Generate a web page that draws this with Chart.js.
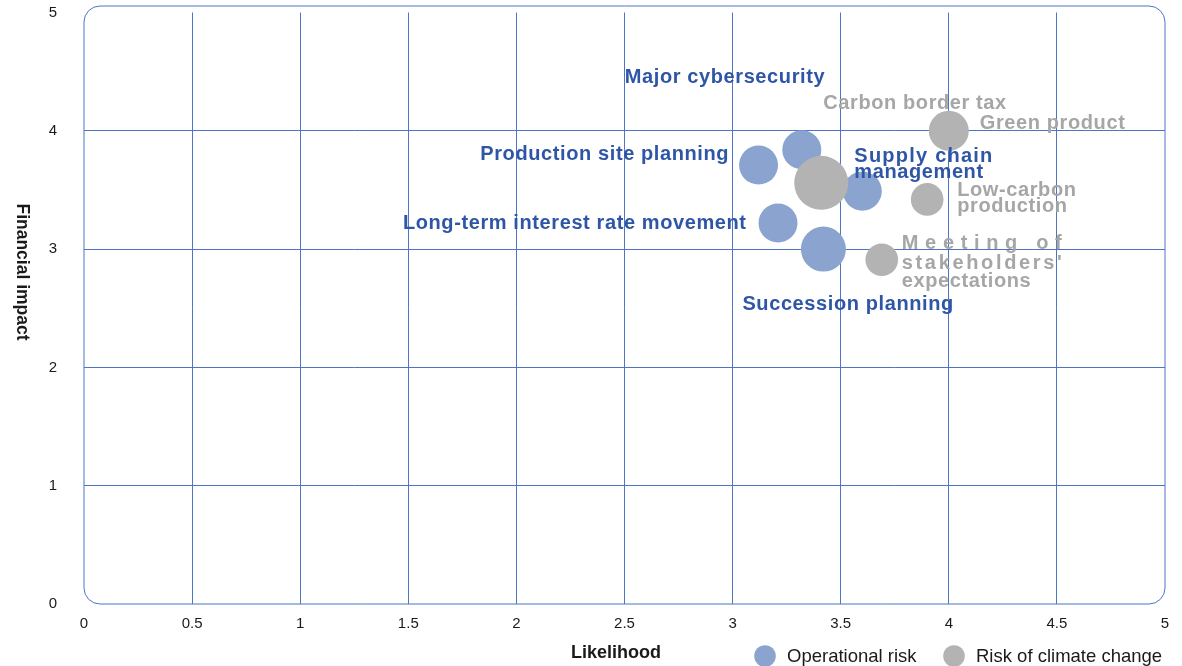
<!DOCTYPE html>
<html>
<head>
<meta charset="utf-8">
<script src="https://cdn.jsdelivr.net/npm/chart.js@4/dist/chart.umd.min.js"></script>
<style>
  html, body { margin: 0; padding: 0; background: #ffffff; }
  #wrap { width: 1182px; height: 666px; position: relative; }
</style>
</head>
<body>
<div id="wrap"><canvas id="c" width="1182" height="666"></canvas></div>
<script>
// ---------- DATA ----------
const seriesNames = ["Operational risk", "Risk of climate change"];

const opNames = ["Major cybersecurity", "Production site planning", "Supply chain management",
                 "Long-term interest rate movement", "Succession planning"];
const opLikelihood = [3.32, 3.12, 3.60, 3.21, 3.42];
const opImpact     = [3.84, 3.71, 3.49, 3.22, 3.00];
const opWeight     = [19.5, 19.5, 19.5, 19.5, 22.5];

const ccNames = ["Carbon border tax", "Green product", "Low-carbon production",
                 "Meeting of stakeholders' expectations"];
const ccLikelihood = [3.41, 4.00, 3.90, 3.69];
const ccImpact     = [3.56, 4.00, 3.42, 2.91];
const ccWeight     = [27, 20, 16.3, 16.3];

const xTickValues = [0, 0.5, 1, 1.5, 2, 2.5, 3, 3.5, 4, 4.5, 5];
const yTickValues = [0, 1, 2, 3, 4, 5];

const xTitle = "Likelihood";
const yTitle = "Financial impact";

// ---------- STYLE / LAYOUT (not data) ----------
const BLUE_FILL = "#8ba3cf";
const GREY_FILL = "#b3b3b3";
const BLUE_TEXT = "#2f56a6";
const GREY_TEXT = "#a6a6a6";
const GRID = "#4f74c4";
const FONT = "'Liberation Sans', Arial, sans-serif";
const LABEL_SHIFT = 2;

// label placement relative to the bubble centre (pixels)
const labelLayout = {
  "Major cybersecurity": { lines: ["Major cybersecurity"], dx: -177, dy: [-74], align: "left" },
  "Production site planning": { lines: ["Production site planning"], dx: -30, dy: [-13], align: "right" },
  "Supply chain management": { lines: ["Supply chain", "management"], dx: -8, dy: [-37, -21], align: "left", justify: [138, 0] },
  "Long-term interest rate movement": { lines: ["Long-term interest rate movement"], dx: -32, dy: [-2], align: "right" },
  "Succession planning": { lines: ["Succession planning"], dx: -81, dy: [53], align: "left" },
  "Carbon border tax": { lines: ["Carbon border tax"], dx: 2, dy: [-81], align: "left" },
  "Green product": { lines: ["Green product"], dx: 31, dy: [-9], align: "left" },
  "Low-carbon production": { lines: ["Low-carbon", "production"], dx: 30, dy: [-11, 5], align: "left" },
  "Meeting of stakeholders' expectations": { lines: ["Meeting of", "stakeholders'", "expectations"], dx: 20, dy: [-18, 2, 20], align: "left", justify: [160, 160, 0] }
};

function drawSpaced(ctx, text, x, y, spacing, align, targetWidth) {
  const chars = Array.from(text);
  const widths = chars.map(ch => ctx.measureText(ch).width);
  const raw = widths.reduce((a, b) => a + b, 0);
  let sp = spacing;
  if (targetWidth && chars.length > 1) sp = (targetWidth - raw) / (chars.length - 1);
  const total = raw + sp * (chars.length - 1);
  let cx = align === "right" ? x - total : (align === "center" ? x - total / 2 : x);
  ctx.textAlign = "left";
  chars.forEach((ch, i) => { ctx.fillText(ch, cx, y); cx += widths[i] + sp; });
}

const decorPlugin = {
  id: "decor",
  beforeDatasetsDraw(chart) {
    const ctx = chart.ctx, a = chart.chartArea;
    const top = a.top - 6.5, left = a.left, right = a.right, bottom = a.bottom, r = 16;
    ctx.save();
    ctx.strokeStyle = GRID;
    ctx.lineWidth = 1;
    ctx.beginPath();
    ctx.moveTo(left + r, top);
    ctx.lineTo(right - r, top);
    ctx.arcTo(right, top, right, top + r, r);
    ctx.lineTo(right, bottom - r);
    ctx.arcTo(right, bottom, right - r, bottom, r);
    ctx.lineTo(left + r, bottom);
    ctx.arcTo(left, bottom, left, bottom - r, r);
    ctx.lineTo(left, top + r);
    ctx.arcTo(left, top, left + r, top, r);
    ctx.closePath();
    ctx.stroke();
    ctx.restore();
  },
  afterDatasetsDraw(chart) {
    const ctx = chart.ctx;
    ctx.save();
    ctx.textBaseline = "middle";
    ctx.font = "bold 20px " + FONT;
    chart.data.datasets.forEach((ds, di) => {
      const meta = chart.getDatasetMeta(di);
      ctx.fillStyle = di === 0 ? BLUE_TEXT : GREY_TEXT;
      ds.names.forEach((name, i) => {
        const el = meta.data[i];
        const L = labelLayout[name];
        if (!L || !el) return;
        L.lines.forEach((line, li) => {
          const tw = L.justify ? L.justify[li] : 0;
          drawSpaced(ctx, line, el.x + L.dx, el.y + L.dy[li] + LABEL_SHIFT, 0.6, L.align, tw);
        });
      });
    });
    ctx.restore();
  },
  afterDraw(chart) {
    const ctx = chart.ctx;
    ctx.save();
    ctx.fillStyle = "#1a1a1a";
    ctx.textBaseline = "middle";
    ctx.font = "bold 18px " + FONT;
    ctx.textAlign = "center";
    ctx.fillText(xTitle, 616, 653);
    ctx.save();
    ctx.translate(22, 272);
    ctx.rotate(Math.PI / 2);
    ctx.font = "bold 17.5px " + FONT;
    ctx.fillText(yTitle, 0, 0);
    ctx.restore();
    const items = [
      { label: seriesNames[0], color: BLUE_FILL, cx: 765 },
      { label: seriesNames[1], color: GREY_FILL, cx: 954 }
    ];
    ctx.font = "18.5px " + FONT;
    ctx.textAlign = "left";
    items.forEach(it => {
      ctx.beginPath();
      ctx.fillStyle = it.color;
      ctx.arc(it.cx, 656, 10.8, 0, Math.PI * 2);
      ctx.fill();
      ctx.fillStyle = "#1a1a1a";
      ctx.fillText(it.label, it.cx + 22, 657);
    });
    ctx.restore();
  }
};

function toPoints(xs, ys, rs) {
  return xs.map((x, i) => ({ x: x, y: ys[i], r: rs[i] }));
}

const gridColor = (ctx) => {
  const v = ctx.tick ? ctx.tick.value : null;
  const s = ctx.scale;
  if (v === s.min || v === s.max) return "rgba(0,0,0,0)";
  return GRID;
};

new Chart(document.getElementById("c"), {
  type: "bubble",
  data: {
    datasets: [
      { label: seriesNames[0], names: opNames, data: toPoints(opLikelihood, opImpact, opWeight),
        backgroundColor: BLUE_FILL, borderWidth: 0, order: 1 },
      { label: seriesNames[1], names: ccNames, data: toPoints(ccLikelihood, ccImpact, ccWeight),
        backgroundColor: GREY_FILL, borderWidth: 0, order: 0 }
    ]
  },
  options: {
    responsive: false,
    devicePixelRatio: 1,
    animation: false,
    layout: { autoPadding: false, padding: { top: 12.5, right: 17, left: 0, bottom: 0 } },
    plugins: { legend: { display: false }, tooltip: { enabled: false } },
    elements: { point: { hoverRadius: 0 } },
    scales: {
      x: {
        type: "linear", min: 0, max: 5,
        afterBuildTicks: (s) => { s.ticks = xTickValues.map(v => ({ value: v })); },
        afterFit: (s) => { s.height = 62; s.paddingLeft = 0; s.paddingRight = 0; s.paddingTop = 0; s.paddingBottom = 0; },
        grid: { color: gridColor, lineWidth: 1, drawTicks: false },
        border: { display: false },
        ticks: { padding: 11, color: "#1a1a1a", font: { family: FONT, size: 15 },
                 maxRotation: 0, autoSkip: false, callback: (v) => String(v) }
      },
      y: {
        type: "linear", min: 0, max: 5,
        afterBuildTicks: (s) => { s.ticks = yTickValues.map(v => ({ value: v })); },
        afterFit: (s) => { s.width = 84; s.paddingLeft = 0; s.paddingRight = 0; s.paddingTop = 0; s.paddingBottom = 0; },
        grid: { color: gridColor, lineWidth: 1, drawTicks: false },
        border: { display: false },
        ticks: { padding: 27, color: "#1a1a1a", font: { family: FONT, size: 15 },
                 callback: (v) => String(v) }
      }
    }
  },
  plugins: [decorPlugin]
});
</script>
</body>
</html>
